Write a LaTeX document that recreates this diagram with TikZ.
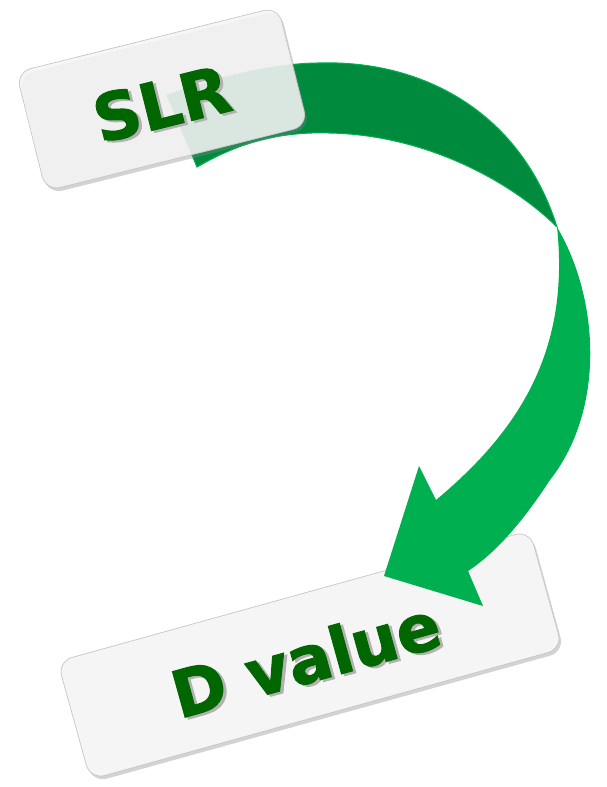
\documentclass[tikz,border=0pt]{standalone}
\usepackage{fontspec}
\newfontfamily\labelfont{DejaVu Sans}[BoldFeatures={FakeBold=1.6}]
\usepackage{tikz}
\usetikzlibrary{shadows}
\definecolor{boxgray}{HTML}{F5F5F5}
\definecolor{ribbondark}{HTML}{008A3E}
\definecolor{ribbonlight}{HTML}{00B050}
\definecolor{labelgreen}{HTML}{006600}
\newcommand{\shadowed}[1]{\makebox[0pt][l]{\kern1.5pt\raisebox{-1.5pt}{\color{black!30}#1}}#1}
\begin{document}
\begin{tikzpicture}[x=0.02cm,y=-0.02cm,
  labelbox/.style={draw=gray!45, line width=0.4pt, fill=boxgray, rounded corners=8.5pt,
    minimum height=2.45cm, drop shadow={shadow xshift=1.2pt,shadow yshift=-1.8pt,opacity=0.35}},
  labeltext/.style={text=labelgreen, font=\labelfont\bfseries\fontsize{37}{40}\selectfont}]
\useasboundingbox (0,0) rectangle (606,787);
\node[labelbox, minimum width=9.8cm, rotate=15.5] (dval) at (310,655) {};
\node[labeltext, rotate=15.5] (dvaltext) at (306,660) {\shadowed{D value}};
\coordinate (twist) at (557,227);
\coordinate (tip) at (384,576);
% back side of the twisted ribbon
\fill[ribbondark, draw=ribbonlight, line width=0.6pt] (167,95) .. controls (210,80) and (270,63) .. (320,63)
  .. controls (420,60) and (520,110) .. (twist)
  .. controls (515,185) and (430,135) .. (330,133)
  .. controls (270,131) and (230,148) .. (197,167) -- cycle;
% front side and head
\fill[ribbonlight] (twist) .. controls (600,300) and (605,410) .. (550,480)
  .. controls (527,515) and (500,550) .. (468,571)
  -- (483,606) -- (tip) -- (419,466) -- (436,500)
  .. controls (520,430) and (570,350) .. (twist) -- cycle;
\node[labelbox, minimum width=5.4cm, rotate=14, fill opacity=0.87] (slr) at (162,99) {};
\node[labeltext, rotate=14] (slrtext) at (162,105) {\shadowed{SLR}};
\end{tikzpicture}
\end{document}
